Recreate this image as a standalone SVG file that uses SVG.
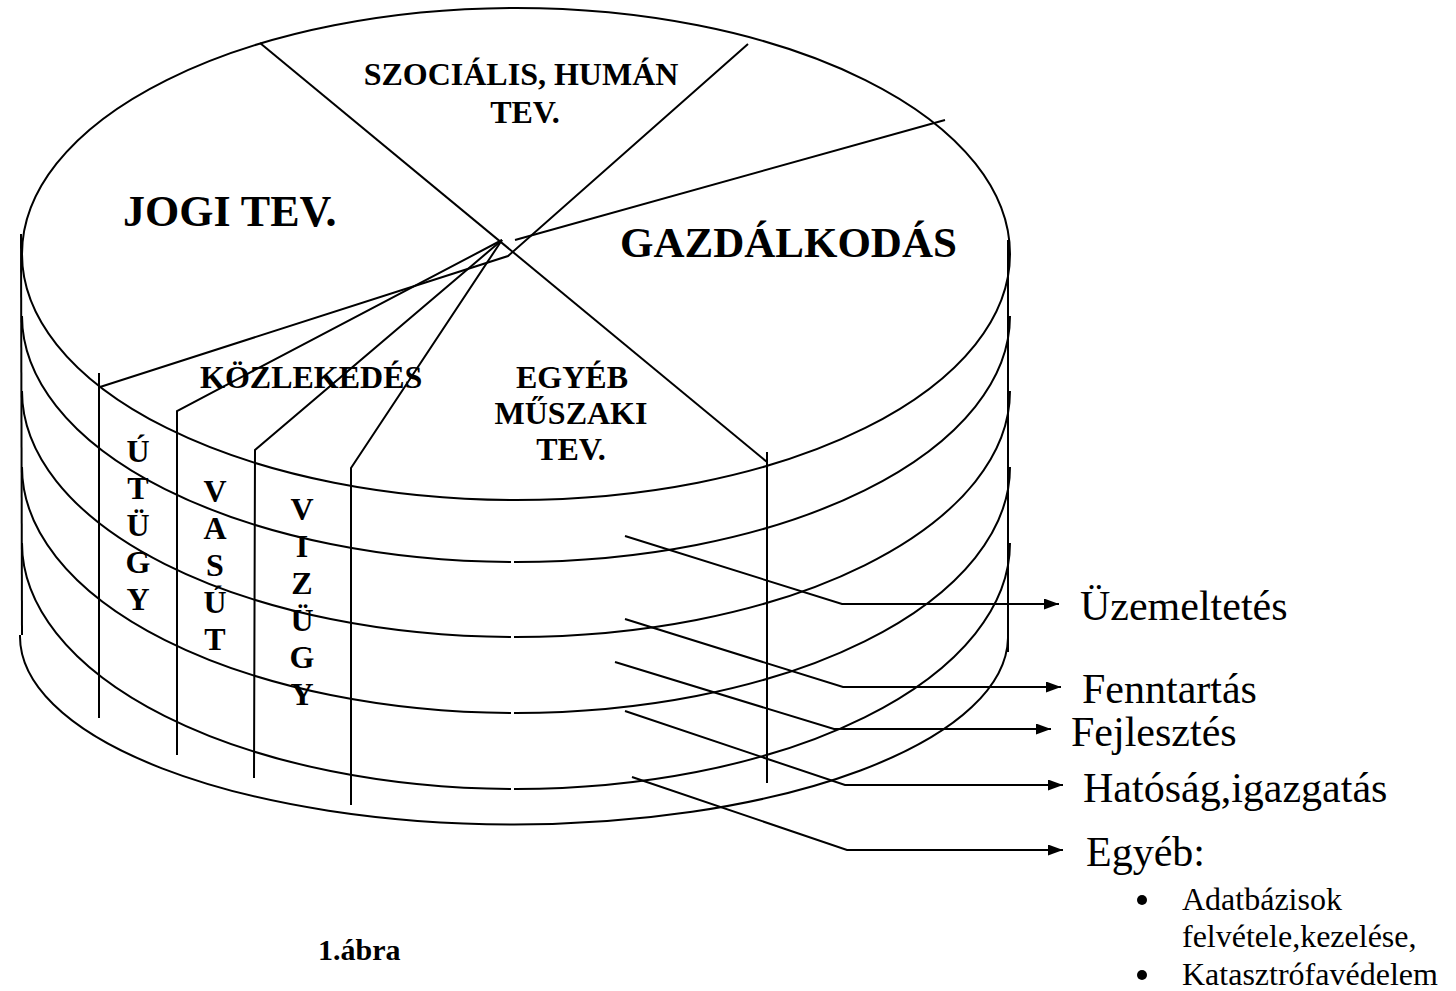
<svg xmlns="http://www.w3.org/2000/svg" width="1456" height="991" viewBox="0 0 1456 991">
<style>
.ln{fill:none;stroke:#000;stroke-width:2}
.b{font-family:"Liberation Serif","Times New Roman",serif;font-weight:bold;fill:#000}
.r{font-family:"Liberation Serif","Times New Roman",serif;fill:#000}
.m{text-anchor:middle}
</style>
<defs>
<marker id="ah" markerUnits="userSpaceOnUse" markerWidth="15" markerHeight="11" refX="15" refY="5.5" orient="auto"><path d="M0,0 L15,5.5 L0,11 z" fill="#000"/></marker>
</defs>
<rect width="1456" height="991" fill="#fff"/>
<g id="cylinder">
<ellipse class="ln" cx="516" cy="254" rx="494" ry="246"/>
<path class="ln" d="M22,316 A494,246 0 0 0 511,562 M514,562 A494,246 0 0 0 1010,316"/>
<path class="ln" d="M22,391 A494,246 0 0 0 511,637 M514,637 A494,246 0 0 0 1010,391"/>
<path class="ln" d="M22,467 A494,246 0 0 0 511,713 M514,713 A494,246 0 0 0 1010,467"/>
<path class="ln" d="M22,543 A494,246 0 0 0 511,789 M514,789 A494,246 0 0 0 1010,543"/>
<path class="ln" d="M20,635 A494,188 0 0 0 1008,638"/>
<path class="ln" d="M21,234 L22,635"/>
<path class="ln" d="M1008,240 L1008,652"/>
</g>
<g id="sectors">
<path class="ln" d="M260,43 L767,462"/>
<path class="ln" d="M748,44 L508,256 L100,387"/>
<path class="ln" d="M99,373 L99,718"/>
<path class="ln" d="M515,240 L945,120"/>
<path class="ln" d="M502,240 L177,411 L177,755"/>
<path class="ln" d="M502,240 L255,450 L254,778"/>
<path class="ln" d="M502,240 L351,468 L351,805"/>
<path class="ln" d="M767,452 L767,783"/>
</g>
<g id="sector-labels">
<g id="szocialis"><text class="b m" x="521" y="85" font-size="32">SZOCIÁLIS, HUMÁN</text><text class="b m" x="525" y="123" font-size="32">TEV.</text></g>
<g id="jogi"><text class="b" x="123" y="226" font-size="44">JOGI TEV.</text></g>
<g id="gazdalkodas"><text class="b" x="620" y="257" font-size="43">GAZDÁLKODÁS</text></g>
<g id="kozlekedes"><text class="b" x="200" y="388" font-size="32">KÖZLEKEDÉS</text></g>
<g id="egyeb-muszaki"><text class="b m" x="572" y="388" font-size="32">EGYÉB</text><text class="b m" x="571" y="424" font-size="32">MŰSZAKI</text><text class="b m" x="571" y="460" font-size="32">TEV.</text></g>
<g id="utugy"><text class="b m" x="138" y="462" font-size="32"><tspan x="138">Ú</tspan><tspan x="138" dy="37">T</tspan><tspan x="138" dy="37">Ü</tspan><tspan x="138" dy="37">G</tspan><tspan x="138" dy="37">Y</tspan></text></g>
<g id="vasut"><text class="b m" x="215" y="502" font-size="32"><tspan x="215">V</tspan><tspan x="215" dy="37">A</tspan><tspan x="215" dy="37">S</tspan><tspan x="215" dy="37">Ú</tspan><tspan x="215" dy="37">T</tspan></text></g>
<g id="vizugy"><text class="b m" x="302" y="520" font-size="32"><tspan x="302">V</tspan><tspan x="302" dy="37">I</tspan><tspan x="302" dy="37">Z</tspan><tspan x="302" dy="37">Ü</tspan><tspan x="302" dy="37">G</tspan><tspan x="302" dy="37">Y</tspan></text></g>
</g>
<g id="connectors">
<path class="ln" marker-end="url(#ah)" d="M625,536 L842,604 L1059,604"/>
<path class="ln" marker-end="url(#ah)" d="M625,619 L843,687 L1061,687"/>
<path class="ln" marker-end="url(#ah)" d="M615,662 L834,729 L1051,729"/>
<path class="ln" marker-end="url(#ah)" d="M625,711 L845,785 L1063,785"/>
<path class="ln" marker-end="url(#ah)" d="M632,777 L847,850 L1063,850"/>
</g>
<g id="uzemeltetes"><text class="r" x="1080" y="620" font-size="42">Üzemeltetés</text></g>
<g id="fenntartas"><text class="r" x="1082" y="703" font-size="42">Fenntartás</text></g>
<g id="fejlesztes"><text class="r" x="1071" y="746" font-size="42">Fejlesztés</text></g>
<g id="hatosag"><text class="r" x="1083" y="802" font-size="42">Hatóság,igazgatás</text></g>
<g id="egyeb"><text class="r" x="1086" y="866" font-size="42">Egyéb:</text>
<circle cx="1142" cy="900" r="5"/>
<text class="r" x="1182" y="910" font-size="32">Adatbázisok</text>
<text class="r" x="1182" y="947" font-size="32">felvétele,kezelése,</text>
<circle cx="1142" cy="975" r="5"/>
<text class="r" x="1182" y="985" font-size="32">Katasztrófavédelem</text>
</g>
<g id="caption"><text class="b" x="318" y="960" font-size="30">1.ábra</text></g>
</svg>
